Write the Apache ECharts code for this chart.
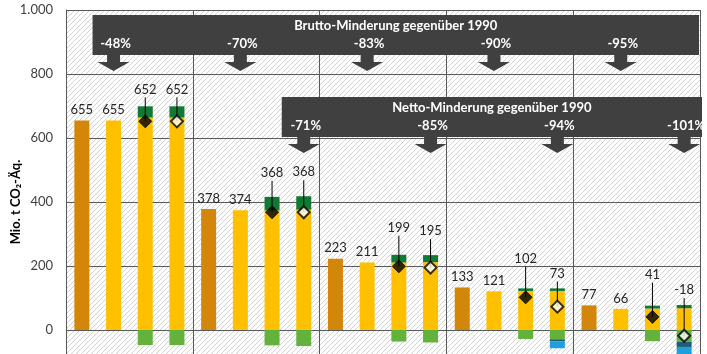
<!DOCTYPE html>
<html>
<head>
<meta charset="utf-8">
<title>Minderung gegenüber 1990</title>
<script src="https://cdn.jsdelivr.net/npm/echarts@6/dist/echarts.min.js"></script>
<style>
	html, body { margin: 0; padding: 0; background: #fff; }
	#main { width: 707px; height: 354px; }
</style>
</head>
<body>
<div id="main"></div>
<script>
// Werte je Balken, vier Balken pro Jahresgruppe
var groups = ['2025', '2030', '2035', '2040', '2045'];
var categories = [
	'2025-1', '2025-2', '2025-3', '2025-4',
	'2030-1', '2030-2', '2030-3', '2030-4',
	'2035-1', '2035-2', '2035-3', '2035-4',
	'2040-1', '2040-2', '2040-3', '2040-4',
	'2045-1', '2045-2', '2045-3', '2045-4'
];
var refBar     = [655, null, null, null, 378, null, null, null, 223, null, null, null, 133, null, null, null, 77, null, null, null];
var yellowBar  = [null, 655, 664, 664, null, 374, 374, 376, null, 211, 211, 212, null, 121, 122, 122, null, 66, 67, 68];
var darkGreen  = [null, null, 35, 35, null, null, 42, 42, null, null, 24, 22, null, null, 8, 8, null, null, 9, 10];
var lightGreen = [null, null, -47, -47, null, null, -48, -50, null, null, -36, -39, null, null, -28, -29, null, null, -35, -37];
var tealBar    = [null, null, null, null, null, null, null, null, null, null, null, null, null, null, null, -6, null, null, null, -16];
var blueBar    = [null, null, null, null, null, null, null, null, null, null, null, null, null, null, null, -22, null, null, null, -43];
var netValues  = [null, null, 652, 652, null, null, 368, 368, null, null, 199, 195, null, null, 102, 73, null, null, 41, -18];
var grossCuts  = ['-48%', '-70%', '-83%', '-90%', '-95%'];
var netCuts    = ['-71%', '-85%', '-94%', '-101%'];
var yTicks     = [0, 200, 400, 600, 800, 1000];

// Abstand der Netto-Beschriftung über dem Balken (px)
var labelLift = [17, 17, 24, 24, 27, 24, 30, 15, 31, 15];

var boxColor = '#404040';
var textColor = '#262626';
var font = 'Lato';

var myChart = echarts.init(document.getElementById('main'));

// schraffierter Hintergrund
var hatch = document.createElement('canvas');
hatch.width = 5;
hatch.height = 5;
var hc = hatch.getContext('2d');
hc.fillStyle = '#ffffff';
hc.fillRect(0, 0, 5, 5);
hc.strokeStyle = '#d2d2d2';
hc.lineWidth = 1;
[-5, 0, 5].forEach(function(o) {
	hc.beginPath();
	hc.moveTo(o, 5);
	hc.lineTo(o + 5, 0);
	hc.stroke();
});

var netPoints = [];
netValues.forEach(function(v, i) {
	if (v !== null) netPoints.push([i, v, yellowBar[i] + darkGreen[i]]);
});

var diamonds = netValues.map(function(v, i) {
	if (v === null) return null;
	if (i % 4 === 2) {
		return { value: v, symbolSize: 13, itemStyle: { color: '#000', borderColor: '#000', borderWidth: 1 } };
	}
	return { value: v, symbolSize: 12, itemStyle: { color: '#fff', borderColor: '#000', borderWidth: 2 } };
});

function fmt(v) {
	return String(v).replace(/\B(?=(\d{3})+(?!\d))/g, '.');
}

var barLabel = {
	show: true,
	position: 'top',
	distance: 4,
	fontFamily: font,
	fontSize: 13,
	color: textColor
};

option = {
	animation: false,
	grid: {
		left: 66,
		right: 7,
		top: 10,
		bottom: -40,
		outerBoundsMode: 'none',
		containLabel: false,
		show: true,
		borderWidth: 0,
		backgroundColor: { image: hatch, repeat: 'repeat' }
	},
	xAxis: {
		type: 'category',
		data: categories,
		axisLine: { show: false },
		axisTick: { show: false },
		axisLabel: { show: false },
		splitLine: {
			show: true,
			interval: function(index) { return index % 4 === 0; },
			lineStyle: { color: '#595959', width: 1 }
		}
	},
	yAxis: {
		type: 'value',
		min: -200,
		max: 1000,
		interval: 200,
		name: 'Mio. t CO₂-Äq.',
		nameLocation: 'middle',
		nameGap: 44,
		nameMoveOverlap: false,
		nameTextStyle: { fontFamily: font, fontSize: 13, fontWeight: 'bold', color: '#000' },
		axisLine: { show: true, lineStyle: { color: '#595959' } },
		axisTick: { show: false },
		axisLabel: {
			margin: 13,
			fontFamily: font,
			fontSize: 13,
			color: '#404040',
			formatter: function(v) { return yTicks.indexOf(v) >= 0 ? fmt(v) : ''; }
		},
		splitLine: { lineStyle: { color: '#595959', width: 1 } }
	},
	series: [{
		name: 'Referenz',
		type: 'bar',
		stack: 'a',
		barWidth: 15,
		data: refBar,
		itemStyle: { color: '#d4860b' },
		label: barLabel
	}, {
		name: 'Emissionen',
		type: 'bar',
		stack: 'a',
		barWidth: 15,
		data: yellowBar,
		itemStyle: { color: '#ffc000' },
		label: Object.assign({}, barLabel, {
			formatter: function(p) { return p.dataIndex % 4 === 1 ? p.value : ''; }
		})
	}, {
		name: 'Restemissionen',
		type: 'bar',
		stack: 'a',
		barWidth: 15,
		data: darkGreen,
		itemStyle: { color: '#107a34' }
	}, {
		name: 'LULUCF',
		type: 'bar',
		stack: 'a',
		barWidth: 15,
		data: lightGreen,
		itemStyle: { color: '#62b23c' }
	}, {
		name: 'Senke 1',
		type: 'bar',
		stack: 'a',
		barWidth: 15,
		data: tealBar,
		itemStyle: { color: '#1f5e78' }
	}, {
		name: 'Senke 2',
		type: 'bar',
		stack: 'a',
		barWidth: 15,
		data: blueBar,
		itemStyle: { color: '#1fa0dc' }
	}, {
		name: 'Netto-Linien',
		type: 'custom',
		z: 5,
		data: netPoints,
		encode: { x: 0, y: 1 },
		renderItem: function(params, api) {
			var x = api.value(0);
			var p = api.coord([x, api.value(1)]);
			var t = api.coord([x, api.value(2)]);
			var ly = t[1] - labelLift[params.dataIndex];
			return {
				type: 'group',
				children: [{
					type: 'line',
					shape: { x1: p[0], y1: ly + 8, x2: p[0], y2: p[1] },
					style: { stroke: '#000', lineWidth: 1 }
				}, {
					type: 'text',
					style: {
						text: String(api.value(1)),
						x: p[0],
						y: ly,
						textAlign: 'center',
						textVerticalAlign: 'middle',
						font: '13px ' + font,
						fill: textColor
					}
				}]
			};
		}
	}, {
		name: 'Netto',
		type: 'scatter',
		z: 6,
		symbol: 'diamond',
		data: diamonds
	}]
};
myChart.setOption(option);

// Banner mit Pfeilen
function banner(left, right, top, bottom, title, labels, xs, els) {
	els.push({
		type: 'rect',
		shape: { x: left, y: top, width: right - left, height: bottom - top },
		style: { fill: boxColor },
		z: 100
	});
	els.push({
		type: 'text',
		style: {
			text: title, x: (left + right) / 2, y: top + 11,
			textAlign: 'center', textVerticalAlign: 'middle',
			font: 'bold 13px ' + font, fill: '#fff'
		},
		z: 101
	});
	xs.forEach(function(cx, k) {
		els.push({
			type: 'polygon',
			shape: { points: [
				[cx - 6.5, bottom - 1], [cx + 6.5, bottom - 1], [cx + 6.5, bottom + 7],
				[cx + 16, bottom + 7], [cx, bottom + 16], [cx - 16, bottom + 7], [cx - 6.5, bottom + 7]
			] },
			style: { fill: boxColor },
			z: 100
		});
		els.push({
			type: 'text',
			style: {
				text: labels[k], x: cx + 2, y: bottom - 11,
				textAlign: 'center', textVerticalAlign: 'middle',
				font: 'bold 13px ' + font, fill: '#fff'
			},
			z: 101
		});
	});
}

var grossX = groups.map(function(g, k) { return myChart.convertToPixel({ xAxisIndex: 0 }, k * 4 + 1); });
var netX = netCuts.map(function(c, k) { return myChart.convertToPixel({ xAxisIndex: 0 }, (k + 1) * 4 + 3); });
var els = [];
banner(grossX[0] - 21, 699, 15, 55, 'Brutto-Minderung gegenüber 1990', grossCuts, grossX, els);
banner(netX[0] - 22, 702, 97, 137, 'Netto-Minderung gegenüber 1990', netCuts, netX, els);
myChart.setOption({ graphic: els });
</script>
</body>
</html>
